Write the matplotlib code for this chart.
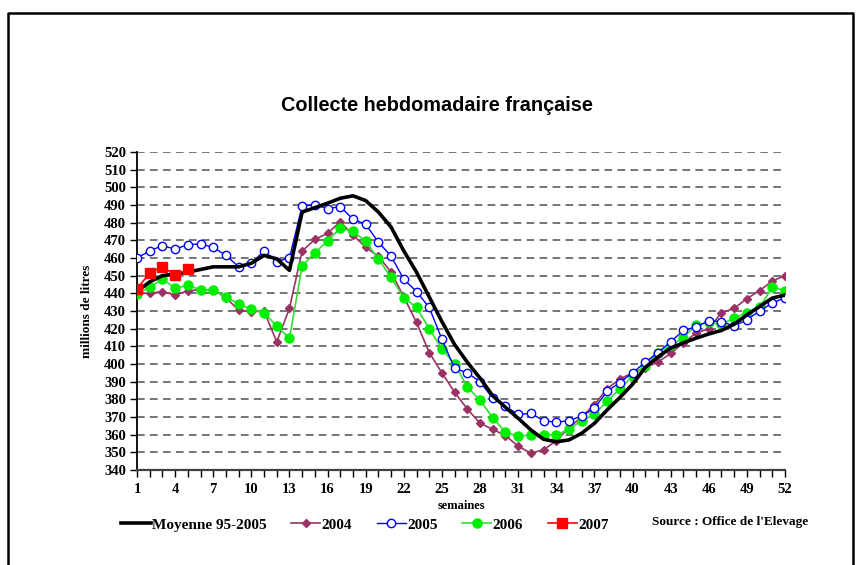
import numpy as np
import matplotlib
matplotlib.use('Agg')
import matplotlib.pyplot as plt
from matplotlib.lines import Line2D
from matplotlib.ticker import MultipleLocator

# weekly milk collection, millions of litres
weeks = np.arange(1, 53)

moyenne = [441, 446.5, 450, 451, 452, 453.5, 455, 455, 455, 457, 461.5, 459.5, 453,
           486, 488.5, 491, 493.8, 495.2, 492.5, 486, 477.5, 464, 452, 438, 424, 411,
           401, 392, 382, 375.5, 369.3, 362.7, 357.4, 356, 357, 360.8, 366.4, 374, 381,
           388.5, 398, 404, 409, 412, 414.6, 417, 419, 422.5, 427.8, 432.5, 437.3, 439]

y2004 = [440, 440, 441, 439, 441.5, 442, 442, 437.5, 430.5, 429.5, 430, 412.5, 431.5,
         464, 470.5, 474, 480.5, 473, 466, 461, 452, 438, 423.5, 406.5, 395, 384,
         374.5, 366.5, 363, 359.5, 353.5, 349.5, 351.5, 356.5, 364, 370, 377, 386, 391.5,
         395, 398, 401, 406, 412, 417.5, 420, 429, 431.5, 437, 441.5, 447, 450]

y2005 = [460, 464, 467, 465, 467.5, 468, 466, 461.5, 455, 457, 464, 458, 460,
         489.5, 490, 488, 489, 482, 479, 469, 461, 448, 441, 432, 414, 397.5,
         395, 390, 380.5, 376, 371.5, 372, 368, 367, 368, 370.5, 375, 384.5, 389.5,
         395, 401, 406.5, 412.5, 419, 421, 424.5, 424, 421.5, 425, 430, 434.5, 437.5]

y2006 = [439.5, 443.5, 448, 443, 444.5, 442, 442, 438, 434, 431, 429, 421.5, 414.5,
         455.5, 463, 469.5, 477, 475, 469.5, 459.5, 449, 437.5, 432, 420, 408.5, 400,
         387, 379.5, 369.5, 361.5, 359, 360, 360, 360, 363, 368, 371.5, 379, 386,
         393, 399, 406.5, 410.5, 415, 422, 423.5, 422.5, 426, 429, 432, 443.5, 441.5]

y2007 = [442.5, 451.5, 455, 450.5, 453.5]

serif = 'Liberation Serif'

fig = plt.figure(figsize=(8.61, 5.65), dpi=100)
ax = fig.add_axes([0.1591, 0.1681, 0.7526, 0.5629])

# grid first so the curves sit on top
for v in range(350, 521, 10):
    ax.axhline(v, color='#505050', lw=1.1, dashes=(5, 3.5), zorder=1)

ax.plot(weeks, moyenne, color='black', lw=2.6, label='Moyenne 95-2005', zorder=5)
ax.plot(weeks, y2004, color='#993366', lw=1.2, marker='D', ms=4.5,
        mec='#993366', mfc='#993366', label='2004', zorder=3)
ax.plot(weeks, y2005, color='#0000FF', lw=1.0, marker='o', ms=6,
        mec='#0000FF', mfc='white', mew=1.0, label='2005', zorder=4)
ax.plot(weeks, y2006, color='#33DD33', lw=1.2, marker='o', ms=6.5,
        mec='#00EE00', mfc='#00EE00', label='2006', zorder=3)
ax.plot(weeks[:len(y2007)], y2007, color='#FF0000', lw=1.2, marker='s', ms=6.5,
        mec='#FF0000', mfc='#FF0000', label='2007', zorder=6)

ax.set_xlim(1, 52)
ax.set_ylim(340, 520)
ax.set_xticks(range(1, 53, 3))
ax.xaxis.set_minor_locator(MultipleLocator(1))
ax.set_yticks(range(340, 521, 10))

ax.spines['top'].set_visible(False)
ax.spines['right'].set_visible(False)
ax.spines['left'].set_linewidth(1.3)
ax.spines['bottom'].set_linewidth(1.6)
ax.spines['bottom'].set_color('#404040')
ax.tick_params(axis='both', which='both', direction='out', length=5, width=1.0)
for lab in ax.get_xticklabels() + ax.get_yticklabels():
    lab.set_fontfamily(serif)
    lab.set_fontweight('bold')
    lab.set_fontsize(10.5)
ax.tick_params(axis='y', pad=3)
ax.tick_params(axis='x', pad=4)

ax.set_xlabel('semaines', fontfamily=serif, fontweight='bold', fontsize=9, labelpad=3)
ax.set_ylabel('millions de litres', fontfamily=serif, fontweight='bold', fontsize=9.5,
              labelpad=8)

fig.text(0.508, 0.814, 'Collecte hebdomadaire française', ha='center', va='center',
         fontfamily='Liberation Sans', fontweight='bold', fontsize=14.3)

leg = fig.legend(loc='center', bbox_to_anchor=(0.424, 0.071), ncol=5, frameon=False,
                 prop={'family': serif, 'weight': 'bold', 'size': 11},
                 handlelength=1.9, handletextpad=0.1, columnspacing=1.6)

fig.text(0.757, 0.076, "Source : Office de l'Elevage", ha='left', va='center',
         fontfamily=serif, fontweight='bold', fontsize=9.5)

# frame around the picture (no bottom edge, cut off in the original)
W, H = 861, 565
xs = [8 / W, 8 / W, 853 / W, 853 / W]
ys = [0, 1 - 13 / H, 1 - 13 / H, 0]
fig.add_artist(Line2D(xs, ys, color='black', lw=1.8, transform=fig.transFigure))

plt.savefig('out.png', dpi=100)
